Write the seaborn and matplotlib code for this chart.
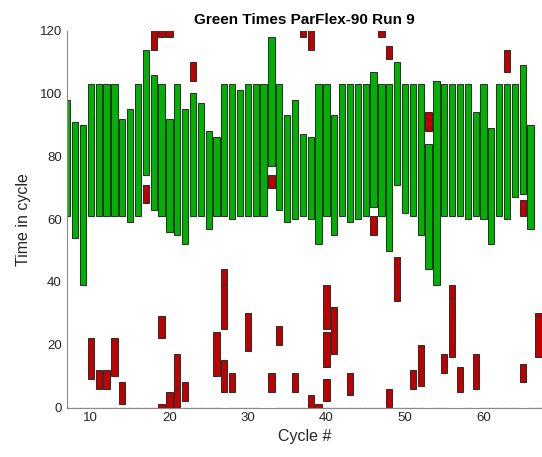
import matplotlib
matplotlib.use("Agg")
import matplotlib.pyplot as plt
import numpy as np
import seaborn as sns

# Green phase per cycle: start and end time within the cycle
green_cycles = list(range(7, 67))
green_bottom = [61, 54, 39, 61, 61, 61, 61, 61, 59, 61,
                74, 63, 61, 56, 55, 52, 61, 61, 57, 61,
                61, 60, 61, 61, 61, 61, 77, 63, 59, 60,
                61, 60, 52, 61, 55, 61, 59, 60, 61, 64,
                61, 50, 71, 62, 61, 55, 44, 39, 61, 61,
                61, 60, 61, 60, 52, 61, 60, 67, 68, 57]
green_top = [98, 91, 90, 103, 103, 103, 103, 92, 95, 103,
             114, 106, 103, 92, 103, 95, 100, 97, 88, 86,
             103, 103, 101, 103, 103, 103, 118, 103, 93, 98,
             87, 86, 103, 103, 93, 103, 103, 103, 103, 107,
             103, 103, 110, 103, 103, 103, 84, 104, 103, 103,
             103, 103, 94, 103, 89, 103, 103, 103, 109, 90]

# Red segments (cycle, start, end)
red_cycle = [10, 11, 12, 13, 14, 17, 18, 19, 19, 19, 20, 20, 21, 21, 22, 23,
             26, 27, 27, 27, 28, 30, 33, 33, 34, 36, 37, 38, 38, 39, 40, 40,
             40, 41, 43, 46, 47, 48, 48, 49, 51, 52, 53, 55, 56, 56, 57, 59,
             63, 65, 65, 67, 67]
red_bottom = [9, 6, 6, 10, 1, 65, 114, 0, 22, 118, 0, 118, 0, 6, 2, 104,
              10, 5, 25, 39, 5, 18, 5, 70, 20, 5, 118, 0, 114, 0, 2, 13,
              25, 17, 4, 55, 118, 0, 111, 34, 6, 7, 88, 11, 16, 35, 5, 6,
              107, 8, 61, 16, 29]
red_top = [22, 12, 12, 22, 8, 71, 121, 1, 29, 121, 5, 121, 6, 17, 8, 110,
           24, 15, 39, 44, 11, 30, 11, 74, 26, 11, 121, 4, 121, 1, 9, 24,
           39, 32, 11, 61, 121, 6, 115, 48, 12, 20, 94, 17, 35, 39, 13, 17,
           114, 14, 66, 29, 30]

# Cycles with an empty (zero-length) red interval at the start of the cycle
empty_cycles = [7, 8, 9, 10, 11, 12, 13, 14, 15, 16, 17, 18, 22, 23, 24, 25,
                26, 28, 29, 30, 31, 34, 35, 36, 37, 40, 41, 42, 43, 44, 45,
                46, 47, 49, 50, 51, 52, 54, 55, 58, 60, 61, 62, 63, 64, 66, 67]

x_ticks = [10, 20, 30, 40, 50, 60]
y_ticks = [0, 20, 40, 60, 80, 100, 120]

GREEN = "#00B200"
RED = "#BE0000"
EDGE = "#2b2b2b"
TEXT = "#262626"

sns.set_theme(style="white")
plt.rcParams["font.family"] = ["Liberation Sans", "DejaVu Sans"]

fig = plt.figure(figsize=(5.42, 4.57), dpi=100)
ax = fig.add_axes([67.3 / 542, 49.5 / 457, (542 - 67.3) / 542, 376.8 / 457])

ax.bar(empty_cycles, np.zeros(len(empty_cycles)), width=0.8, bottom=0,
       color="none", edgecolor="#6a6a6a", linewidth=0.9, zorder=3)

ax.bar(green_cycles, np.subtract(green_top, green_bottom), width=0.8,
       bottom=green_bottom, color=GREEN, edgecolor=EDGE, linewidth=0.7, zorder=2)

ax.bar(red_cycle, np.subtract(red_top, red_bottom), width=0.8,
       bottom=red_bottom, color=RED, edgecolor=EDGE, linewidth=0.7, zorder=2)

ax.set_xlim(7, 67.45)
ax.set_ylim(0, 120)
ax.set_xticks(x_ticks)
ax.set_yticks(y_ticks)

for side in ("top", "right"):
    ax.spines[side].set_visible(False)
for side in ("left", "bottom"):
    ax.spines[side].set_color("#8a8a8a")
    ax.spines[side].set_linewidth(0.8)

ax.tick_params(axis="both", direction="in", length=4, width=0.6,
               color="#8a8a8a", labelcolor=TEXT, labelsize=9.5)
ax.tick_params(axis="x", pad=3)
ax.tick_params(axis="y", pad=4)

ax.set_xlabel("Cycle #", fontsize=11.5, color=TEXT, labelpad=4)
ax.set_ylabel("Time in cycle", fontsize=11.5, color=TEXT, labelpad=6)
ax.set_title("Green Times ParFlex-90 Run 9", fontsize=11, fontweight="bold",
             color="black", pad=5)

fig.savefig("out.png", dpi=100)
